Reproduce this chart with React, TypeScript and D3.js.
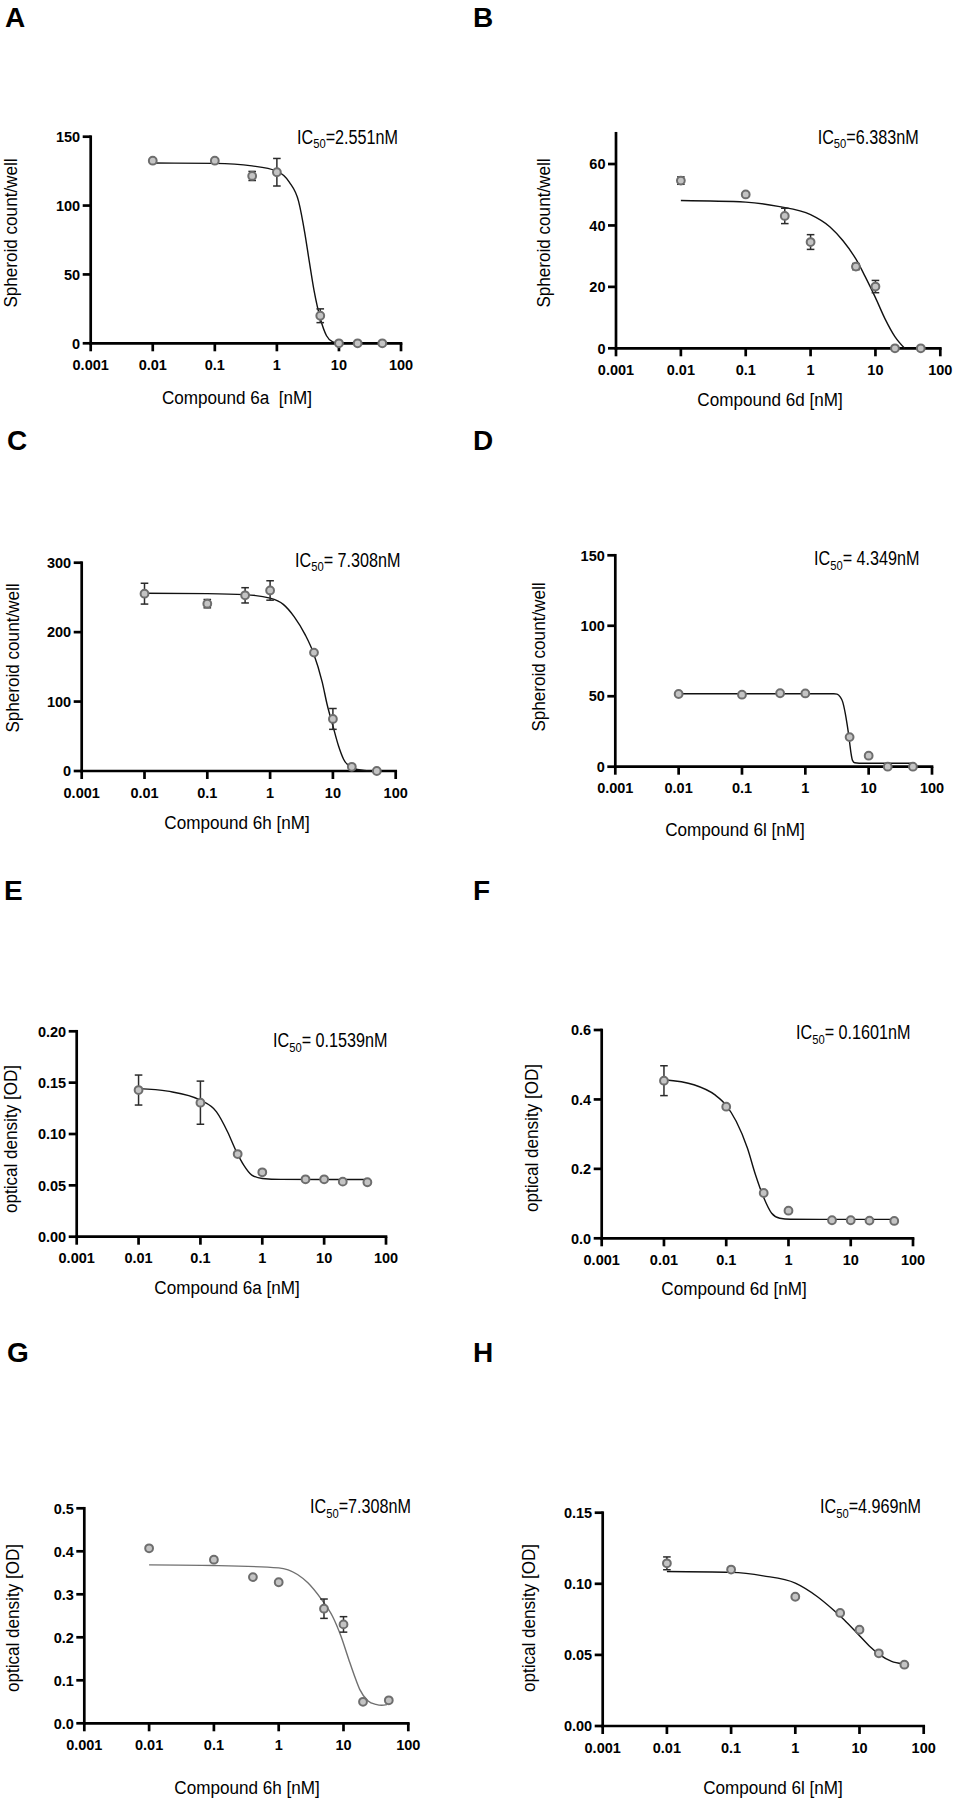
import React from 'react';
import * as d3 from 'd3';

// ---------- data ----------
const concentrations = [0.01, 0.1, 0.4, 1, 5, 10, 20, 50];
const concentrationsH = [0.01, 0.1, 1, 5, 10, 20, 50];
const xTickValues = [0.001, 0.01, 0.1, 1, 10, 100];
const xTickLabels = ['0.001', '0.01', '0.1', '1', '10', '100'];

const valuesA = [132.6, 132.6, 121.5, 124.2, 20, 0, 0, 0];
const errorsA = [1.2, 1.2, 3.3, 10, 5, 0, 0, 0];
const valuesB = [54.6, 50.1, 43.1, 34.6, 26.6, 20.1, 0, 0];
const errorsB = [1.2, 0.5, 2.5, 2.4, 1.0, 2.0, 0, 0];
const valuesC = [255.4, 241, 253, 260, 170.5, 75, 6, 0];
const errorsC = [15, 6, 11, 14, 2, 15, 2, 0];
const valuesD = [51.6, 51.1, 52.1, 52, 21, 7.8, 0, 0];
const errorsD = [0.5, 0.5, 0.5, 0.5, 0.5, 1.2, 0, 0];
const valuesE = [0.1428, 0.1305, 0.0805, 0.0627, 0.0559, 0.0559, 0.0536, 0.053];
const errorsE = [0.0146, 0.021, 0.001, 0.002, 0.0005, 0.0005, 0.0005, 0.0005];
const valuesF = [0.454, 0.379, 0.1305, 0.0795, 0.052, 0.052, 0.051, 0.05];
const errorsF = [0.043, 0.005, 0.003, 0.003, 0, 0, 0, 0];
const valuesG = [0.407, 0.3805, 0.34, 0.328, 0.2665, 0.23, 0.05, 0.0535];
const errorsG = [0.003, 0.005, 0.004, 0.003, 0.0225, 0.018, 0.002, 0.002];
const valuesH = [0.1144, 0.11, 0.0909, 0.0795, 0.0677, 0.0511, 0.0431];
const errorsH = [0.0045, 0.0005, 0.001, 0.0005, 0.0005, 0.0005, 0.0005];

// fitted curves: [log10(nM), value]
const curveA = [[-2, 130.9], [-1, 130.6], [-0.4, 128.8], [0, 125], [0.2, 117], [0.35, 103], [0.45, 80], [0.52, 60], [0.6, 38], [0.7, 18], [0.8, 5.5], [0.9, 1], [1.0, 0]];
const curveB = [[-2, 48.1], [-1, 47.6], [-0.5, 46.2], [0, 43.5], [0.3, 39.5], [0.5, 35], [0.7, 29], [0.85, 23], [1, 16.5], [1.15, 9.5], [1.3, 3.8], [1.45, 0]];
const curveC = [[-2, 256], [-1, 255.5], [-0.4, 254], [0, 249], [0.21, 240], [0.385, 222], [0.56, 196], [0.69, 170], [0.83, 128], [0.91, 95], [1.0, 65], [1.09, 36], [1.17, 17], [1.3, 5], [1.5, 0.8], [1.7, 0]];
const curveD = [[-2, 51.8], [0.45, 51.8], [0.5, 51.5], [0.55, 49.5], [0.59, 46], [0.63, 38], [0.66, 30], [0.68, 24], [0.7, 17], [0.72, 10], [0.745, 4.5], [0.78, 2.8], [0.85, 2.5], [1.7, 2.5]];
const curveE = [[-2, 0.1442], [-1.53, 0.1417], [-1, 0.1329], [-0.74, 0.1216], [-0.56, 0.102], [-0.43, 0.0843], [-0.3, 0.0697], [-0.17, 0.06], [0, 0.0567], [0.3, 0.0558], [1.72, 0.0557]];
const curveF = [[-2, 0.4567], [-1.52, 0.4423], [-1.18, 0.413], [-1, 0.383], [-0.84, 0.337], [-0.66, 0.26], [-0.53, 0.183], [-0.4, 0.118], [-0.27, 0.072], [-0.14, 0.0577], [0.03, 0.0548], [0.5, 0.0545], [1.7, 0.0545]];
const curveG = [[-2, 0.3684], [-1, 0.3669], [0, 0.3615], [0.29, 0.346], [0.45, 0.3266], [0.66, 0.288], [0.83, 0.249], [0.96, 0.203], [1.08, 0.149], [1.17, 0.11], [1.25, 0.079], [1.38, 0.052], [1.5, 0.044], [1.59, 0.042], [1.67, 0.0434]];
const curveH = [[-2, 0.1086], [-1, 0.108], [-0.5, 0.1056], [0, 0.1005], [0.34, 0.0911], [0.59, 0.0818], [0.76, 0.0748], [1.0, 0.0635], [1.17, 0.0555], [1.3, 0.0505], [1.5, 0.0455], [1.67, 0.0438]];

const yTicksA = [0, 50, 100, 150];
const yTicksB = [0, 20, 40, 60];
const yTicksC = [0, 100, 200, 300];
const yTicksD = [0, 50, 100, 150];
const yTicksE = [0, 0.05, 0.1, 0.15, 0.2];
const yTicksF = [0, 0.2, 0.4, 0.6];
const yTicksG = [0, 0.1, 0.2, 0.3, 0.4, 0.5];
const yTicksH = [0, 0.05, 0.1, 0.15];

const letters = ['A', 'B', 'C', 'D', 'E', 'F', 'G', 'H'];
const ic50Values = ['=2.551nM', '=6.383nM', '= 7.308nM', '= 4.349nM', '= 0.1539nM', '= 0.1601nM', '=7.308nM', '=4.969nM'];
const xTitles = ['Compound 6a  [nM]', 'Compound 6d [nM]', 'Compound 6h [nM]', 'Compound 6l [nM]', 'Compound 6a [nM]', 'Compound 6d [nM]', 'Compound 6h [nM]', 'Compound 6l [nM]'];
const yTitles = ['Spheroid count/well', 'Spheroid count/well', 'Spheroid count/well', 'Spheroid count/well', 'optical density [OD]', 'optical density [OD]', 'optical density [OD]', 'optical density [OD]'];

// ---------- layout ----------
const layout = [
  { lx: 5, ly: 27, x0: 90.7, x1: 401, yb: 343.3, yt: 136.7, ymax: 150, fmt: 'd', icX: 297, icY: 143.5, xtX: 237, xtY: 404, ytX: 17, ytY: 233, color: '#111' },
  { lx: 473, ly: 27, x0: 616, x1: 940.3, yb: 348.3, yt: 133.3, ymax: 70, fmt: 'd', icX: 817.7, icY: 143.5, xtX: 770, xtY: 406, ytX: 550, ytY: 233, color: '#111' },
  { lx: 7, ly: 450, x0: 81.7, x1: 395.7, yb: 771, yt: 562.7, ymax: 300, fmt: 'd', icX: 295, icY: 566.7, xtX: 237, xtY: 829, ytX: 19, ytY: 658, color: '#111' },
  { lx: 473, ly: 450, x0: 615.3, x1: 932, yb: 766.7, yt: 555.3, ymax: 150, fmt: 'd', icX: 814, icY: 565, xtX: 735, xtY: 836, ytX: 545, ytY: 657, color: '#111' },
  { lx: 4, ly: 900, x0: 76.7, x1: 386, yb: 1236.7, yt: 1031.3, ymax: 0.2, fmt: '.2f', icX: 273, icY: 1047, xtX: 227, xtY: 1294, ytX: 16.5, ytY: 1139, color: '#111' },
  { lx: 473, ly: 900, x0: 601.7, x1: 913, yb: 1238.3, yt: 1030, ymax: 0.6, fmt: '.1f', icX: 796, icY: 1039, xtX: 734, xtY: 1295, ytX: 538, ytY: 1138, color: '#111' },
  { lx: 7, ly: 1362, x0: 84.3, x1: 408.3, yb: 1723.3, yt: 1508.3, ymax: 0.5, fmt: '.1f', icX: 310, icY: 1513, xtX: 247, xtY: 1794, ytX: 19, ytY: 1618, color: '#707070' },
  { lx: 473, ly: 1362, x0: 602.7, x1: 923.7, yb: 1726, yt: 1512.7, ymax: 0.15, fmt: '.2f', icX: 820, icY: 1513, xtX: 773, xtY: 1794, ytX: 535, ytY: 1618, color: '#111' },
];

const seriesX = [concentrations, concentrations, concentrations, concentrations, concentrations, concentrations, concentrations, concentrationsH];
const seriesV = [valuesA, valuesB, valuesC, valuesD, valuesE, valuesF, valuesG, valuesH];
const seriesE = [errorsA, errorsB, errorsC, errorsD, errorsE, errorsF, errorsG, errorsH];
const curves = [curveA, curveB, curveC, curveD, curveE, curveF, curveG, curveH];
const yTicks = [yTicksA, yTicksB, yTicksC, yTicksD, yTicksE, yTicksF, yTicksG, yTicksH];

const BOLD = '"Liberation Sans", Arial, Helvetica, sans-serif';
const SANS = '"Liberation Sans", Arial, Helvetica, sans-serif';
const IC_SCALE = 0.83;
const TITLE_SCALE = 0.9;

function Panel({ i }: { i: number }) {
  const L = layout[i];
  const x = d3.scaleLog().domain([0.001, 100]).range([L.x0, L.x1]);
  const y = d3.scaleLinear().domain([0, L.ymax]).range([L.yb, L.yt]);
  const fmt = d3.format(L.fmt);
  const line = d3
    .line<number[]>()
    .x((d) => x(Math.pow(10, d[0])))
    .y((d) => y(d[1]))
    .curve(d3.curveMonotoneX);
  const xs = seriesX[i];
  const vs = seriesV[i];
  const es = seriesE[i];
  const axisW = 2.7;
  return (
    <g>
      <text x={L.lx} y={L.ly} fontFamily={BOLD} fontWeight="bold" fontSize={28} fill="#000">
        {letters[i]}
      </text>
      {/* axes */}
      <line x1={L.x0} x2={L.x1} y1={L.yb} y2={L.yb} stroke="#000" strokeWidth={axisW} strokeLinecap="square" />
      <line x1={L.x0} x2={L.x0} y1={L.yb} y2={L.yt} stroke="#000" strokeWidth={axisW} strokeLinecap="square" />
      {xTickValues.map((t, k) => (
        <g key={'xt' + k}>
          <line x1={x(t)} x2={x(t)} y1={L.yb} y2={L.yb + 8} stroke="#000" strokeWidth={axisW} />
          <text x={x(t)} y={L.yb + 26.5} textAnchor="middle" fontFamily={BOLD} fontWeight="bold" fontSize={14.5} fill="#000">
            {xTickLabels[k]}
          </text>
        </g>
      ))}
      {yTicks[i].map((t, k) => (
        <g key={'yt' + k}>
          <line x1={L.x0 - 8} x2={L.x0} y1={y(t)} y2={y(t)} stroke="#000" strokeWidth={axisW} />
          <text x={L.x0 - 10.5} y={y(t)} dy="0.36em" textAnchor="end" fontFamily={BOLD} fontWeight="bold" fontSize={14.5} fill="#000">
            {fmt(t)}
          </text>
        </g>
      ))}
      {/* fitted curve */}
      <path d={line(curves[i] as number[][]) || ''} fill="none" stroke={L.color} strokeWidth={1.4} />
      {/* error bars */}
      {xs.map((c, k) =>
        es[k] > 0 ? (
          <g key={'e' + k} stroke="#2b2b2b" strokeWidth={1.5}>
            <line x1={x(c)} x2={x(c)} y1={y(vs[k] - es[k])} y2={y(vs[k] + es[k])} />
            <line x1={x(c) - 3.8} x2={x(c) + 3.8} y1={y(vs[k] - es[k])} y2={y(vs[k] - es[k])} />
            <line x1={x(c) - 3.8} x2={x(c) + 3.8} y1={y(vs[k] + es[k])} y2={y(vs[k] + es[k])} />
          </g>
        ) : null
      )}
      {/* markers */}
      {xs.map((c, k) => (
        <circle key={'m' + k} cx={x(c)} cy={y(vs[k])} r={3.9} fill="#c4c4c4" stroke="#6e6e6e" strokeWidth={2} />
      ))}
      {/* IC50 */}
      <g transform={`translate(${L.icX},${L.icY}) scale(${IC_SCALE},1)`}>
        <text x={0} y={0} fontFamily={SANS} fontSize={19.5} fill="#000" style={{ whiteSpace: 'pre' }}>
          <tspan>IC</tspan>
          <tspan dy={4.5} fontSize={13.5}>50</tspan>
          <tspan dy={-4.5}>{ic50Values[i]}</tspan>
        </text>
      </g>
      {/* axis titles */}
      <g transform={`translate(${L.xtX},${L.xtY}) scale(${TITLE_SCALE},1)`}>
        <text x={0} y={0} textAnchor="middle" fontFamily={SANS} fontSize={19} fill="#000" style={{ whiteSpace: 'pre' }}>
          {xTitles[i]}
        </text>
      </g>
      <g transform={`translate(${L.ytX},${L.ytY}) rotate(-90) scale(${TITLE_SCALE},1)`}>
        <text x={0} y={0} textAnchor="middle" fontFamily={SANS} fontSize={19} fill="#000">
          {yTitles[i]}
        </text>
      </g>
    </g>
  );
}

export default function App() {
  return (
    <svg
      width={953}
      height={1800}
      viewBox="0 0 953 1800"
      style={{ position: 'absolute', left: 0, top: 0, background: '#fff', display: 'block' }}
    >
      <rect x={0} y={0} width={953} height={1800} fill="#fff" />
      {layout.map((_, i) => (
        <Panel key={i} i={i} />
      ))}
    </svg>
  );
}
